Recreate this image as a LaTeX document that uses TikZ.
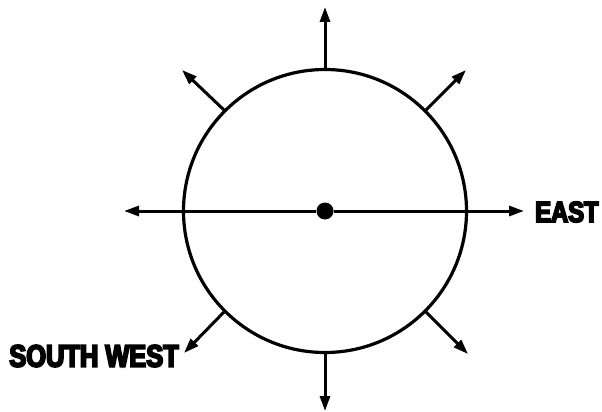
\documentclass[tikz,border=0pt]{standalone}
\usepackage{fontspec}
\setmainfont{Liberation Sans}
\newfontfamily\labelfont[FakeBold=6,FakeStretch=0.82]{Liberation Sans Bold}
\usetikzlibrary{arrows.meta}
\begin{document}
\begin{tikzpicture}[x=1pt,y=-1pt,
  ring/.style={draw,circle,line width=3.2pt,minimum size=283pt,inner sep=0pt},
  dir/.style={line width=3pt,-{Triangle[length=15pt,width=10pt]}},
  lbl/.style={font=\labelfont\fontsize{29}{29}\selectfont,inner sep=0pt}]
\useasboundingbox (0,0) rectangle (602,412);
\node[ring] (ring) at (325,211) {};
\node[circle,fill,minimum size=17pt,inner sep=0pt] (hub) at (325,211) {};
\coordinate (n) at (325,7);
\coordinate (s) at (325,411);
\coordinate (w) at (124,211);
\coordinate (e) at (524,211);
\coordinate (ne) at (466,70);
\coordinate (nw) at (182,70);
\coordinate (se) at (468,354);
\coordinate (sw) at (184,353);
\draw[dir] (ring.90) -- (n);
\draw[dir] (ring.270) -- (s);
\draw[dir] (ring.45) -- (ne);
\draw[dir] (ring.135) -- (nw);
\draw[dir] (ring.315) -- (se);
\draw[dir] (ring.225) -- (sw);
\draw[dir] (hub) -- (e);
\draw[dir] (hub) -- (w);
\node[lbl,anchor=west] (east) at (535,212) {EAST};
\node[lbl,anchor=east,font=\labelfont\fontsize{31}{31}\selectfont] (swl) at (179,356) {SOUTH WEST};
\end{tikzpicture}
\end{document}
